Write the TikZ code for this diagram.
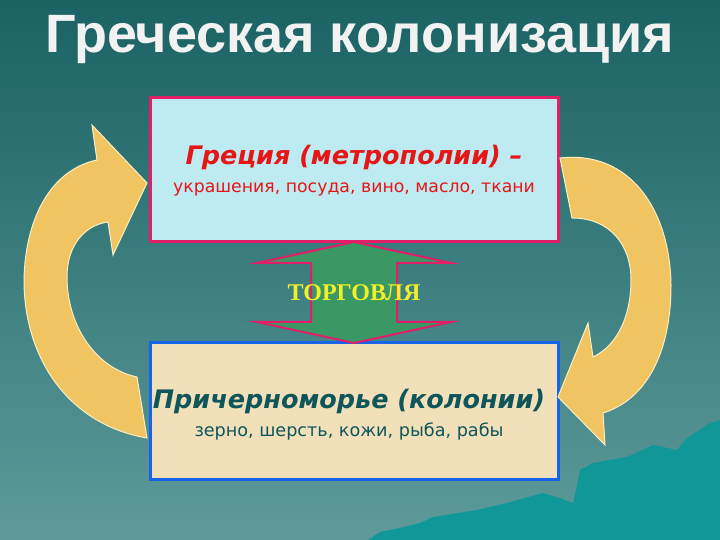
\documentclass[tikz,border=0pt]{standalone}
\usepackage{fontspec}
\setmainfont{DejaVu Sans}
\newfontfamily\headfont{Liberation Sans}
\newfontfamily\tradefont{Liberation Serif}
\usetikzlibrary{positioning}

\definecolor{bgtop}{RGB}{26,98,100}
\definecolor{bgbottom}{RGB}{94,154,154}
\definecolor{hill}{RGB}{16,152,152}
\definecolor{rim}{RGB}{226,30,104}
\definecolor{sky}{RGB}{190,234,242}
\definecolor{sand}{RGB}{242,224,186}
\definecolor{frame}{RGB}{24,100,232}
\definecolor{redtext}{RGB}{230,22,22}
\definecolor{teal}{RGB}{14,86,90}
\definecolor{amber}{RGB}{240,196,96}
\definecolor{pale}{RGB}{250,238,196}
\definecolor{trade}{RGB}{58,152,100}
\definecolor{lemon}{RGB}{240,240,40}

\begin{document}
\begin{tikzpicture}[
    x=1pt, y=1pt,
    box/.style={rectangle, minimum width=408pt, inner sep=0pt, line width=3pt},
    head/.style={font=\fontsize{25.5}{30}\selectfont\bfseries\itshape, inner sep=0pt},
    goods/.style={font=\fontsize{17.3}{20}\selectfont, inner sep=0pt},
    turnarrow/.style={fill=amber, draw=pale, line width=1pt, line join=miter}
]
\useasboundingbox (0,0) rectangle (720,540);

% Background
\shade[top color=bgtop, bottom color=bgbottom] (0,0) rectangle (720,540);
\fill[hill] (368,0) -- (380,8) -- (400,12) -- (420,17) -- (433,23) -- (477,30)
  -- (507,37) -- (543,47) -- (560,42) -- (573,37) -- (577,55) -- (580,70)
  -- (593,77) -- (627,83) -- (653,95) -- (677,90) -- (687,102) -- (710,117)
  -- (720,120) -- (720,0) -- cycle;

% Title
\node[text=white!95!black, font=\fontsize{54}{62}\selectfont\headfont\bfseries] (title) at (360,500) {Греческая колонизация};

% Boxes
\node[box, draw=rim, fill=sky, minimum height=144pt] (greece) at (354,370) {};
\node[box, draw=frame, fill=sand, minimum height=137pt] (colonies) at (354,128.5) {};

\node[head, text=redtext] (greeceT) at (354,383) {Греция (метрополии) –};
\node[goods, text=redtext, below=13pt of greeceT] (greeceI) {украшения, посуда, вино, масло, ткани};

\node[head, text=teal] (coloniesT) at (349,139) {Причерноморье (колонии)};
\node[goods, text=teal, font=\fontsize{17.6}{20}\selectfont, below=9pt of coloniesT] (coloniesI) {зерно, шерсть, кожи, рыба, рабы};

% Trade arrow
\fill[trade] (354,298) -- (451,277) -- (397,277) -- (397,218) -- (451,218)
  -- (354,197) -- (257,218) -- (311,218) -- (311,277) -- (257,277) -- cycle;
\draw[rim, line width=2pt] (311,277) -- (257,277) -- (354,298) -- (451,277) -- (397,277) -- (397,218);
\draw[rim, line width=2pt] (311,277) -- (311,218) -- (257,218) -- (354,197) -- (451,218) -- (397,218);
\node[text=lemon, font=\fontsize{24}{28}\selectfont\tradefont\bfseries] (trade) at (354,247) {ТОРГОВЛЯ};

% Exchange arrows
\draw[turnarrow] (97,380) .. controls (50,370) and (25,320) .. (24,260)
  .. controls (24,180) and (70,115) .. (147,102) -- (137,163)
  .. controls (95,172) and (67,215) .. (67,263)
  .. controls (67,295) and (85,315) .. (108,318)
  -- (113,285) -- (147,357) -- (92,415) -- cycle;
\draw[turnarrow] (560,382) .. controls (630,390) and (670,330) .. (671,255)
  .. controls (671,185) and (645,140) .. (603,127)
  -- (605,95) -- (558,143) -- (588,217) -- (593,183)
  .. controls (618,195) and (631,225) .. (631,260)
  .. controls (631,295) and (610,322) .. (572,322) -- cycle;
\end{tikzpicture}
\end{document}
